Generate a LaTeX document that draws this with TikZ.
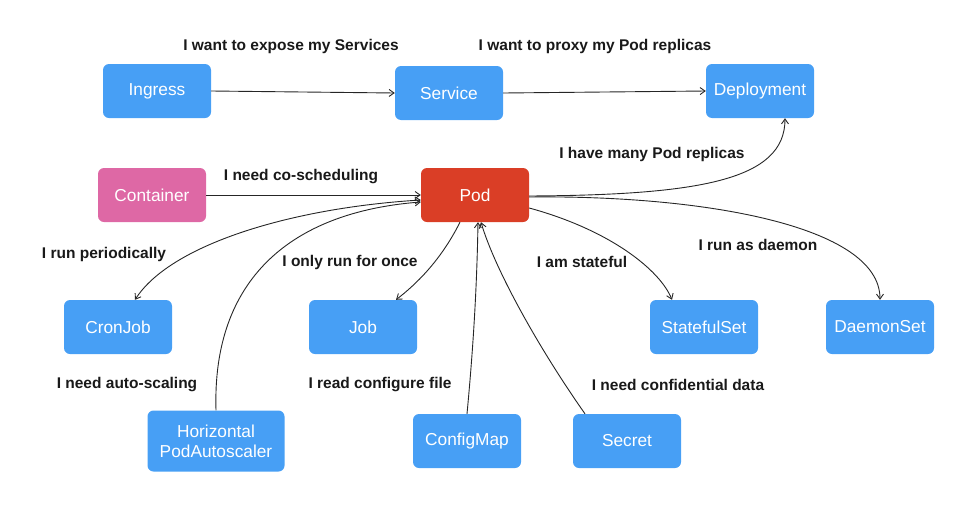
\documentclass[tikz,border=0pt]{standalone}
\usepackage{fontspec}
\setmainfont{Liberation Sans}
\usetikzlibrary{arrows.meta, positioning}
\definecolor{kubeblue}{HTML}{479FF5}
\definecolor{podred}{HTML}{DA3E26}
\definecolor{ctrpink}{HTML}{DE68A5}
\colorlet{linkgray}{black!85}
\tikzset{
  kbox/.style={fill=kubeblue, text=white, rounded corners=6pt, minimum width=108pt,
    minimum height=54pt, inner sep=2pt, align=center, font=\fontsize{17.3}{20}\selectfont},
  note/.style={text=black!90, font=\fontsize{15.5}{18}\selectfont\bfseries},
  link/.style={-{Straight Barb[length=5pt,width=7pt]}, linkgray, line width=0.9pt}
}

\begin{document}
\begin{tikzpicture}[x=1pt, y=-1pt]
    \useasboundingbox (0,0) rectangle (970,509);

    \node[kbox] (ingress) at (157,91) {Ingress};
    \node[kbox] (service) at (449,93) {Service};
    \node[kbox] (deploy) at (760,91) {Deployment};
    \node[kbox, fill=ctrpink] (container) at (152,195) {Container};
    \node[kbox, fill=podred] (pod) at (475,195) {Pod};
    \node[kbox] (cronjob) at (118,327) {CronJob};
    \node[kbox] (job) at (363,327) {Job};
    \node[kbox] (stateful) at (704,327) {StatefulSet};
    \node[kbox] (daemon) at (880,327) {DaemonSet};
    \node[kbox, minimum width=137pt, minimum height=61pt] (hpa) at (216,441) {Horizontal\\PodAutoscaler};
    \node[kbox] (configmap) at (467,441) {ConfigMap};
    \node[kbox] (secret) at (627,441) {Secret};

    \node[note] (nexpose) at (291,46) {I want to expose my Services};
    \node[note] (nproxy) at (595,46) {I want to proxy my Pod replicas};
    \node[note] (ncosched) at (301,177) {I need co-scheduling};
    \node[note] (nreplicas) at (652,154) {I have many Pod replicas};
    \node[note] (nperiodic) at (104,254) {I run periodically};
    \node[note] (nonce) at (350,262) {I only run for once};
    \node[note] (nstateful) at (582,262) {I am stateful};
    \node[note] (ndaemon) at (758,245) {I run as daemon};
    \node[note] (nscaling) at (127,385) {I need auto-scaling};
    \node[note] (nconfig) at (380,385) {I read configure file};
    \node[note] (nsecret) at (678,385) {I need confidential data};

    \draw[link] (ingress.east) -- (service.west);
    \draw[link] (service.east) -- (deploy.west);
    \draw[link] (container.east) -- (pod.west);
    \draw[link] ([yshift=-1pt]pod.east) .. controls (700,195) and (785,180) .. ([xshift=25pt]deploy.south);
    \draw[link] ([yshift=-2pt]pod.east) .. controls (700,195) and (880,225) .. (daemon.north);
    \draw[link] ([yshift=-13pt]pod.east) .. controls (610,230) and (660,270) .. ([xshift=-32pt]stateful.north);
    \draw[link] ([xshift=-15pt]pod.south) .. controls (440,262) and (415,285) .. ([xshift=33pt]job.north);
    \draw[link, {Straight Barb[length=5pt,width=7pt]}-{Straight Barb[length=5pt,width=7pt]}] ([yshift=-5pt]pod.west) .. controls (290,208) and (170,245) .. ([xshift=17pt]cronjob.north);
    \draw[link] (hpa.north) .. controls (212,280) and (290,212) .. ([yshift=-7pt]pod.west);
    \draw[link] (configmap.north) .. controls (474,340) and (477,280) .. ([xshift=3pt]pod.south);
    \draw[link] ([xshift=-42pt]secret.north) .. controls (540,350) and (495,270) .. ([xshift=6pt]pod.south);
\end{tikzpicture}
\end{document}
